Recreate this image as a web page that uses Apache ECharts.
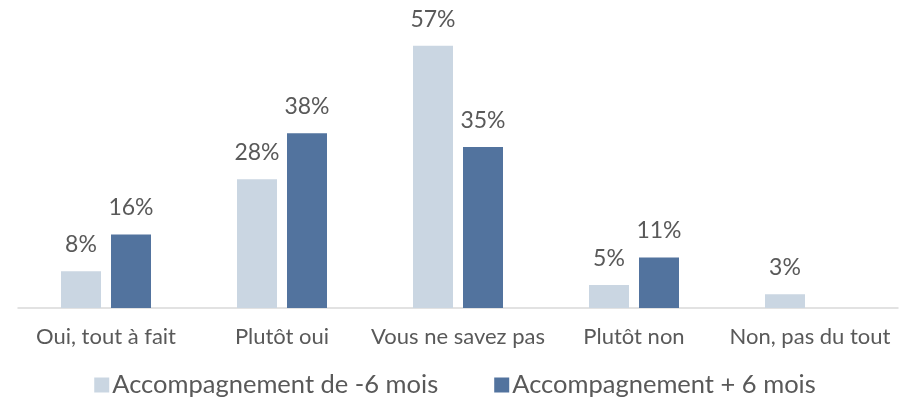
<!DOCTYPE html>
<html>
<head>
<meta charset="utf-8">
<script src="https://cdn.jsdelivr.net/npm/echarts@6/dist/echarts.min.js"></script>
<style>
html,body{margin:0;padding:0;background:#fff;}
#c{width:910px;height:401px;}
</style>
</head>
<body>
<div id="c"></div>
<script>
const categories = ['Oui, tout à fait', 'Plutôt oui', 'Vous ne savez pas', 'Plutôt non', 'Non, pas du tout'];
const seriesNames = ['Accompagnement de -6 mois', 'Accompagnement + 6 mois'];
const lessThan6 = [8, 28, 57, 5, 3];
const moreThan6 = [16, 38, 35, 11, null];

const chart = echarts.init(document.getElementById('c'));
const font = 'Lato, "Open Sans", sans-serif';
const textColor = '#595959';
const lbl = { show: true, position: 'top', distance: 15, formatter: p => p.value + '%', color: textColor, fontSize: 23, fontFamily: font };
chart.setOption({
  animation: false,
  grid: { left: 18, right: 12, top: 32, bottom: 93, containLabel: false },
  legend: {
    bottom: -2, left: 'center', itemWidth: 15, itemHeight: 15, itemGap: 56,
    icon: 'rect',
    textStyle: { color: textColor, fontSize: 25.5, fontFamily: font, padding: [0, 0, 0, -2] },
    data: seriesNames
  },
  xAxis: {
    type: 'category', data: categories,
    axisLine: { lineStyle: { color: '#D9D9D9', width: 1.5 } },
    axisTick: { show: false },
    axisLabel: { color: textColor, fontSize: 22, fontFamily: font, margin: 18, interval: 0 }
  },
  yAxis: { type: 'value', min: 0, max: 60, show: false, splitLine: { show: false } },
  series: [
    { name: seriesNames[0], type: 'bar', data: lessThan6, barWidth: 40, barGap: '25%', itemStyle: { color: '#CAD6E2' }, label: lbl },
    { name: seriesNames[1], type: 'bar', data: moreThan6, barWidth: 40, barGap: '25%', itemStyle: { color: '#52739E' }, label: lbl }
  ]
});
</script>
</body>
</html>
